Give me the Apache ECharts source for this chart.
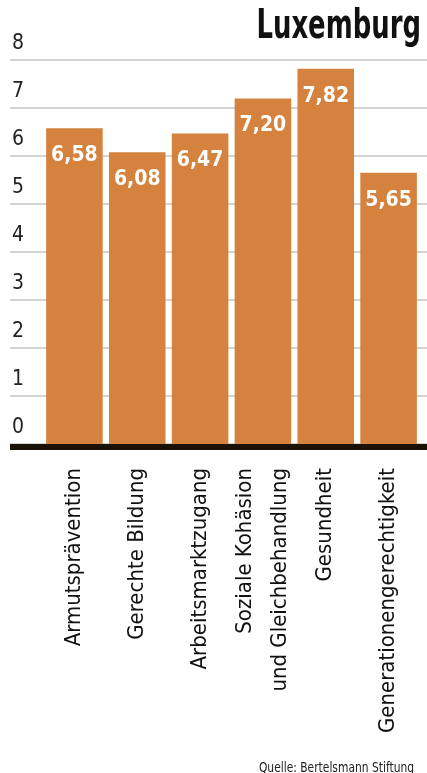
<!DOCTYPE html>
<html>
<head>
<meta charset="utf-8">
<script src="https://cdn.jsdelivr.net/npm/echarts@6/dist/echarts.min.js"></script>
<style>
  html, body { margin: 0; padding: 0; background: #fff; }
  #chart { width: 427px; height: 773px; }
</style>
</head>
<body>
<div id="chart"></div>
<script>
// values
const categories = [
  'Armutsprävention',
  'Gerechte Bildung',
  'Arbeitsmarktzugang',
  'Soziale Kohäsion\nund Gleichbehandlung',
  'Gesundheit',
  'Generationengerechtigkeit',
]
const scores = [6.58, 6.08, 6.47, 7.20, 7.82, 5.65]
const yTicks = [0, 1, 2, 3, 4, 5, 6, 7, 8]
const titleText = 'Luxemburg'
const sourceText = 'Quelle: Bertelsmann Stiftung'

const FONT = "'Liberation Sans Narrow', 'DejaVu Sans Condensed', 'Roboto Condensed', sans-serif"
const BAR = '#d4823d'

const chart = echarts.init(document.getElementById('chart'))

// fmt 6.58 -> "6,58"
const fmt = v => v.toFixed(2).replace('.', ',')

chart.setOption({
  animation: false,
  textStyle: { fontFamily: FONT },
  // title and source as graphic text so they can be squeezed to the narrow face
  graphic: [
    {
      type: 'text',
      x: 421,
      y: 28,
      scaleX: 0.72,
      style: {
        text: titleText,
        font: 'bold 40px ' + FONT,
        fill: '#111',
        align: 'right',
        verticalAlign: 'middle',
      },
    },
    {
      type: 'text',
      x: 414,
      y: 768,
      scaleX: 0.85,
      style: {
        text: sourceText,
        font: '14px ' + FONT,
        fill: '#222',
        align: 'right',
        verticalAlign: 'middle',
      },
    },
  ],
  // grid 0: full-width backdrop for gridlines, y labels and the heavy baseline
  // grid 1: the bars themselves
  grid: [
    { left: 10, right: 0, top: 60, bottom: 329, containLabel: false },
    { left: 43, right: 7, top: 60, bottom: 329, containLabel: false },
  ],
  xAxis: [
    {
      gridIndex: 0,
      type: 'value',
      min: 0,
      max: 1,
      axisLabel: { show: false },
      axisTick: { show: false },
      splitLine: { show: false },
      axisLine: {
        show: true,
        onZero: false,
        lineStyle: { color: '#1a1207', width: 6, cap: 'butt' },
      },
      offset: 3,
      z: 10,
    },
    {
      gridIndex: 1,
      type: 'category',
      data: categories,
      axisLine: { show: false },
      axisTick: { show: false },
      axisLabel: {
        interval: 0,
        rotate: 90,
        margin: 24,
        fontSize: 22,
        lineHeight: 35,
        color: '#111',
        fontFamily: FONT,
      },
    },
  ],
  yAxis: [
    {
      gridIndex: 0,
      type: 'value',
      min: yTicks[0],
      max: yTicks[yTicks.length - 1],
      interval: 1,
      axisLine: { show: false },
      axisTick: { show: false },
      splitLine: { lineStyle: { color: '#c4c4c4', width: 1.5 } },
      axisLabel: {
        inside: true,
        margin: 2,
        align: 'left',
        verticalAlign: 'bottom',
        padding: [0, 0, 6, 0],
        fontSize: 21,
        color: '#222',
        fontFamily: FONT,
      },
    },
    {
      gridIndex: 1,
      type: 'value',
      min: 0,
      max: 8,
      show: false,
    },
  ],
  series: [
    {
      type: 'bar',
      xAxisIndex: 1,
      yAxisIndex: 1,
      data: scores,
      barCategoryGap: '10%',
      itemStyle: { color: BAR },
      label: {
        show: true,
        position: 'insideTop',
        distance: 17,
        formatter: p => fmt(p.value),
        fontFamily: FONT,
        fontSize: 21,
        fontWeight: 'bold',
        color: '#fff',
      },
      z: 5,
    },
  ],
})
</script>
</body>
</html>
